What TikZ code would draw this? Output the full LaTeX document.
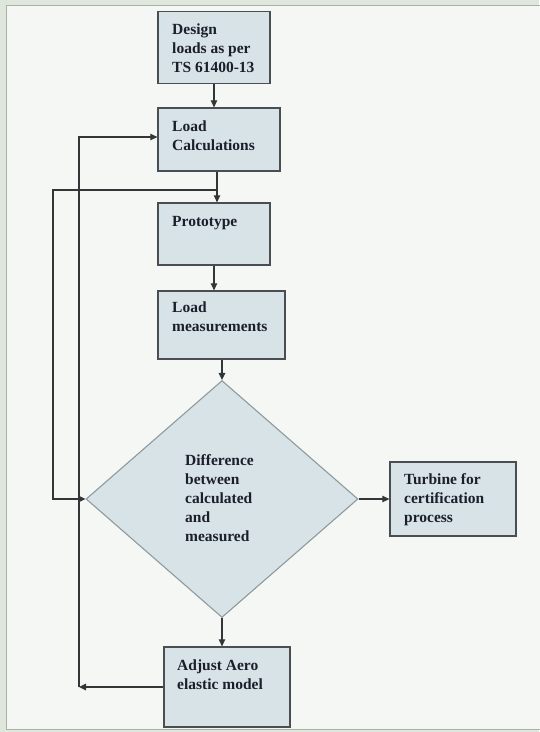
\documentclass[tikz,border=0pt]{standalone}
\usepackage{fontspec}
\setmainfont{Liberation Serif}
\usetikzlibrary{shapes.geometric,arrows.meta}
\definecolor{boxfill}{HTML}{D8E3E8}
\definecolor{boxline}{HTML}{4A4E52}
\definecolor{dmline}{HTML}{8E9A9C}
\definecolor{txt}{HTML}{1C1E2A}
\definecolor{frame}{HTML}{DFE6DC}
\definecolor{frameline}{HTML}{A9B2A8}
\definecolor{paper}{HTML}{F5F7F5}
\definecolor{wire}{HTML}{333638}
\tikzset{
  stepbox/.style={draw=boxline, line width=1.3pt, fill=boxfill, rectangle, inner sep=0pt},
  steptext/.style={anchor=north west, inner sep=0pt, align=left, text=txt,
    font=\fontsize{15.5}{19}\selectfont\bfseries},
  wireline/.style={draw=wire, line width=1.1pt},
  arr/.style={wireline, -{Triangle[length=7pt,width=6.5pt]}},
}
\begin{document}
\begin{tikzpicture}[x=1pt,y=-1pt]
\useasboundingbox (0,0) rectangle (539,732);
\fill[frame] (0,0) rectangle (539,732);
\filldraw[fill=paper, draw=frameline, line width=1pt] (6,5) rectangle (545,729);

% boxes
\node[stepbox, minimum width=112pt, minimum height=72pt] (ds) at (214,47.5) {};
\node[stepbox, minimum width=122pt, minimum height=63pt] (lc) at (219,139.5) {};
\node[stepbox, minimum width=112pt, minimum height=62pt] (pr) at (214,234) {};
\node[stepbox, minimum width=127pt, minimum height=68pt] (lm) at (221.5,325) {};
\node[diamond, draw=dmline, line width=1.1pt, fill=boxfill, inner sep=0pt,
      minimum width=272pt, minimum height=237pt] (dm) at (222,499) {};
\node[stepbox, minimum width=126pt, minimum height=74pt] (tb) at (453,499) {};
\node[stepbox, minimum width=126pt, minimum height=80pt] (aj) at (227,687) {};

% texts
\node[steptext] (dst) at (172,24) {Design\\loads as per\\TS 61400-13};
\node[steptext] (lct) at (172,121) {Load\\Calculations};
\node[steptext] (prt) at (172,216) {Prototype};
\node[steptext] (lmt) at (172,302) {Load\\measurements};
\node[steptext] (dmt) at (185,454) {Difference\\between\\calculated\\and\\measured};
\node[steptext] (tbt) at (404,473) {Turbine for\\certification\\process};
\node[steptext] (ajt) at (177,660) {Adjust Aero\\elastic model};

% connectors
\coordinate (j1) at (217,190);
\coordinate (c1) at (79,687);
\draw[arr] (ds.south) -- (ds.south |- lc.north);
\draw[arr] (lc.south -| j1) -- (j1 |- pr.north);
\draw[arr] (pr.south) -- (pr.south |- lm.north);
\draw[arr] (dm.north |- lm.south) -- (dm.north);
\draw[arr] (dm.east) -- (tb.west);
\draw[arr] (dm.south) -- (dm.south |- aj.north);
\draw[arr] (j1) -- (53,190) |- (dm.west);
\draw[arr] (aj.west) -- (c1);
\draw[arr] (c1) -- (79,137) -- (lc.west |- 0,137);
\end{tikzpicture}
\end{document}
